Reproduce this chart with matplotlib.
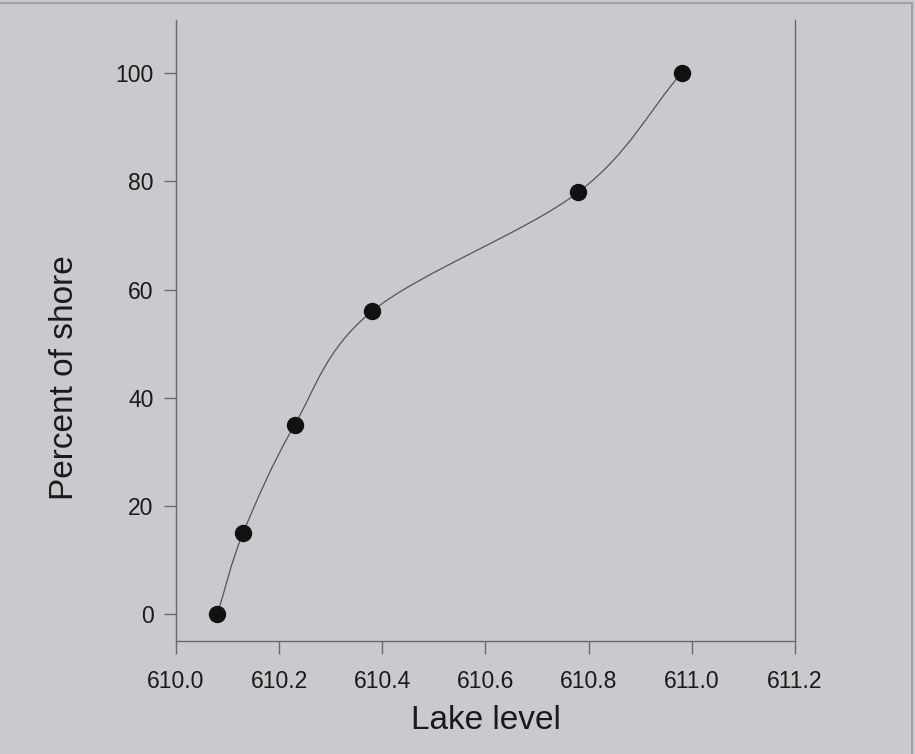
import numpy as np
import matplotlib.pyplot as plt
from matplotlib.path import Path
from matplotlib.patches import PathPatch, Rectangle

# -- Data --
lake_level = [610.08, 610.13, 610.23, 610.38, 610.78, 610.98]
percent_shore = [0, 15, 35, 56, 78, 100]

x_ticks = [610.0, 610.2, 610.4, 610.6, 610.8, 611.0, 611.2]
y_ticks = [0, 20, 40, 60, 80, 100]

BG = "#c9c9ce"
AXC = "#6a6a6a"

plt.rcParams["font.family"] = ["Liberation Sans", "DejaVu Sans"]

fig = plt.figure(figsize=(9.15, 7.54), dpi=100, facecolor=BG)
ax = fig.add_axes([0.1923, 0.1499, 0.6766, 0.8236])
ax.set_facecolor(BG)

# smooth curve through the points (Catmull-Rom as cubic Bezier segments)
pts = np.column_stack([lake_level, percent_shore]).astype(float)
ext = np.vstack([2*pts[0] - pts[1], pts, 2*pts[-1] - pts[-2]])
verts = [tuple(pts[0])]
codes = [Path.MOVETO]
for i in range(1, len(ext) - 2):
    p0, p1, p2, p3 = ext[i-1], ext[i], ext[i+1], ext[i+2]
    c1 = p1 + (p2 - p0)/6
    c2 = p2 - (p3 - p1)/6
    verts += [tuple(c1), tuple(c2), tuple(p2)]
    codes += [Path.CURVE4]*3
ax.add_patch(PathPatch(Path(verts, codes), facecolor="none",
                       edgecolor="#555555", lw=0.9, zorder=2))

ax.plot(lake_level, percent_shore, "o", color="#111111", ms=11.5, zorder=3)

ax.set_xlim(610.0, 611.2)
ax.set_ylim(-4.9, 109.8)
ax.set_xticks(x_ticks)
ax.set_xticklabels([f"{v:.1f}" for v in x_ticks])
ax.set_yticks(y_ticks)

ax.spines["top"].set_visible(False)
for s in ["left", "bottom", "right"]:
    ax.spines[s].set_color(AXC)
    ax.spines[s].set_linewidth(1.0)

ax.tick_params(axis="both", colors=AXC, labelcolor="#1a1a1a",
               labelsize=16.5, length=9, width=1.0)
ax.tick_params(axis="x", pad=12)
ax.tick_params(axis="y", pad=7)

ax.set_xlabel("Lake level", fontsize=24, color="#1a1a1a")
ax.set_ylabel("Percent of shore", fontsize=24, color="#1a1a1a")
ax.xaxis.set_label_coords(0.5, -0.103)
ax.yaxis.set_label_coords(-0.155, 0.424)

# thin page border at top and right
fig.patches.append(Rectangle((-0.01, -0.01), 1.007, 1.006, transform=fig.transFigure,
                             fill=False, edgecolor="#a2a2a6", lw=1.5))

fig.savefig("out.png", dpi=100, facecolor=BG)
